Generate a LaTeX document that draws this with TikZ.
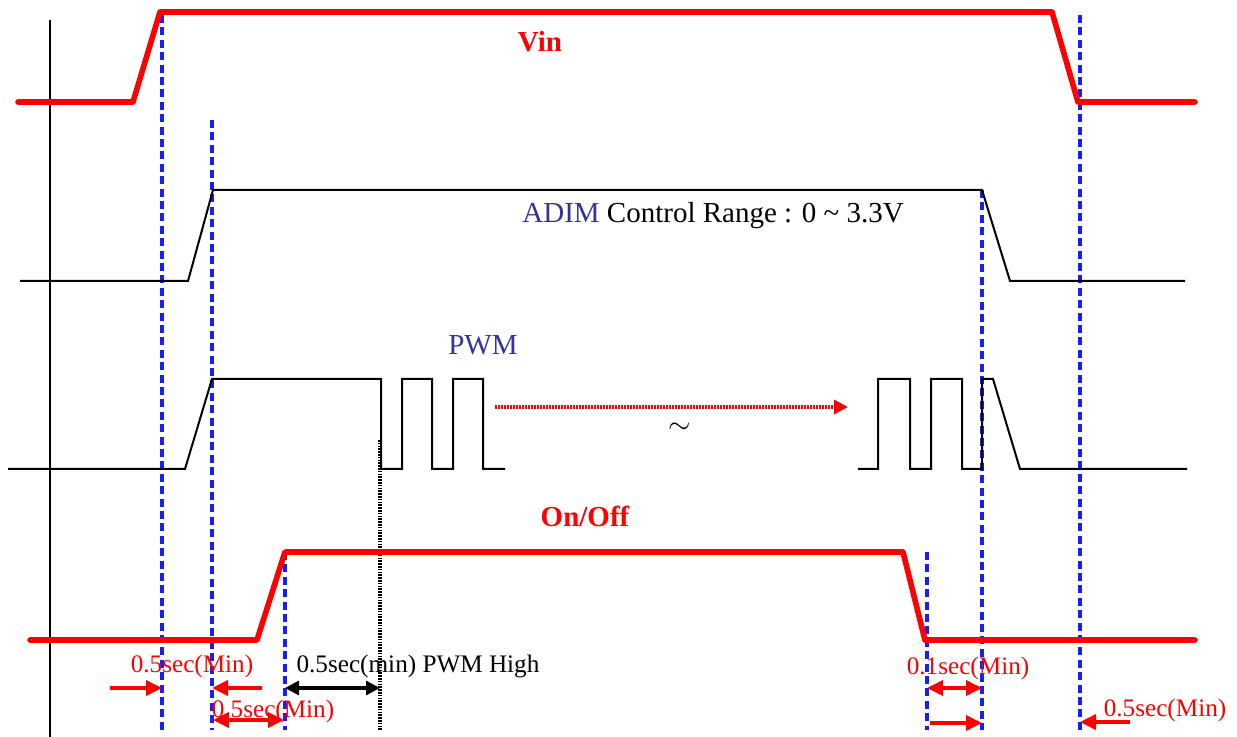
\documentclass[tikz,border=0pt]{standalone}
\usepackage{fontspec}
\setmainfont{Liberation Serif}
\usetikzlibrary{arrows.meta}
\definecolor{sigred}{RGB}{255,0,0}
\definecolor{dblue}{RGB}{20,30,255}
\definecolor{lblue}{RGB}{51,51,153}
\tikzset{
  redsig/.style={draw=sigred,line width=2.8pt,line join=round,line cap=round},
  blksig/.style={draw=black,line width=1pt},
  guide/.style={draw=dblue,line width=1.9pt,dash pattern=on 4pt off 2.2pt},
  tip/.style={},
  redarr/.style={draw=sigred,line width=1.8pt,-{Triangle[length=8pt,width=7.5pt]}},
  redarrb/.style={draw=sigred,line width=1.8pt,{Triangle[length=8pt,width=7.5pt]}-{Triangle[length=8pt,width=7.5pt]}},
  blkarrb/.style={draw=black,line width=1.6pt,{Triangle[length=7pt,width=7pt]}-{Triangle[length=7pt,width=7pt]}},
  lbl/.style={inner sep=0pt,font=\fontsize{12.6}{14}\selectfont},
  big/.style={inner sep=0pt,font=\fontsize{14.5}{16}\selectfont},
}
\begin{document}
\begin{tikzpicture}[x=0.5pt,y=-0.5pt]
\useasboundingbox (0,0) rectangle (1237,737);
% axis
\draw[line width=0.9pt] (50,20) -- (50,737);
% guide lines
\coordinate (g1) at (162,688); \coordinate (g2) at (212,688);
\coordinate (g3) at (285,688); \coordinate (g4) at (380,688);
\coordinate (g5) at (927,688); \coordinate (g6) at (982,688);
\coordinate (g7) at (1080,688);
\draw[guide] (162,15) -- (162,730);
\draw[guide] (212,120) -- (212,730);
\draw[guide] (285,552) -- (285,730);
\draw[guide] (927,552) -- (927,730);
\draw[guide] (982,190) -- (982,730);
\draw[guide] (1080,15) -- (1080,730);
\draw[line width=1.6pt,dash pattern=on 0.8pt off 0.6pt] (380,440) -- (380,730);
% Vin
\draw[redsig] (18,102) -- (133,102) -- (160,12) -- (1052,12) -- (1078,102) -- (1195,102);
\node[big,text=sigred,font=\fontsize{14.5}{16}\selectfont\bfseries] (vin) at (540,42) {Vin};
% ADIM
\draw[blksig] (20,281) -- (188,281) -- (213,190) -- (982,190) -- (1010,281) -- (1185,281);
\node[big,anchor=west] (adim) at (522,216) {\textcolor{lblue}{ADIM} Control Range : 0 \textasciitilde\ 3.3V};
% PWM
\draw[blksig] (8,469) -- (185,469) -- (212,379) -- (381,379) -- (381,469) -- (402,469) -- (402,379)
  -- (432,379) -- (432,469) -- (453,469) -- (453,379) -- (483,379) -- (483,469) -- (505,469);
\draw[blksig] (858,469) -- (878,469) -- (878,379) -- (910,379) -- (910,469) -- (931,469) -- (931,379)
  -- (962,379) -- (962,469) -- (982,469) -- (982,379) -- (993,379) -- (1020,469) -- (1187,469);
\node[big,text=lblue] (pwm) at (483,345) {PWM};
\coordinate (ps) at (495,407); \coordinate (pe) at (848,407);
\draw[draw=sigred,line width=1.6pt,dash pattern=on 0.9pt off 0.6pt,-{Triangle[length=7pt,width=7pt]}] (ps) -- (pe);
\node[big] (tld) at (680,428) {$\sim$};
% On/Off
\draw[redsig] (30,640) -- (257,640) -- (285,552) -- (903,552) -- (925,640) -- (1195,640);
\node[big,text=sigred,font=\fontsize{14.5}{16}\selectfont\bfseries] (onoff) at (585,516) {On/Off};
% bottom annotations
\node[lbl,text=sigred] (t1) at (192,666) {0.5sec(Min)};
\coordinate (a1) at (110,688); \coordinate (a2) at (262,688);
\draw[redarr] (a1) -- (g1);
\draw[redarr] (a2) -- (g2);
\node[lbl,text=sigred] (t2) at (273,711) {0.5sec(Min)};
\draw[redarrb] (213,720) -- (284,720);
\node[lbl] (t3) at (418,666) {0.5sec(min) PWM High};
\draw[blkarrb] (g3) -- (g4);
\node[lbl,text=sigred] (t4) at (968,668) {0.1sec(Min)};
\draw[redarrb] (g5) -- (g6);
\coordinate (a5) at (930,723); \coordinate (a6) at (982,723);
\draw[redarr] (a5) -- (a6);
\node[lbl,text=sigred] (t5) at (1165,710) {0.5sec(Min)};
\coordinate (a7) at (1130,722); \coordinate (a8) at (1080,722);
\draw[redarr] (a7) -- (a8);
\end{tikzpicture}
\end{document}
